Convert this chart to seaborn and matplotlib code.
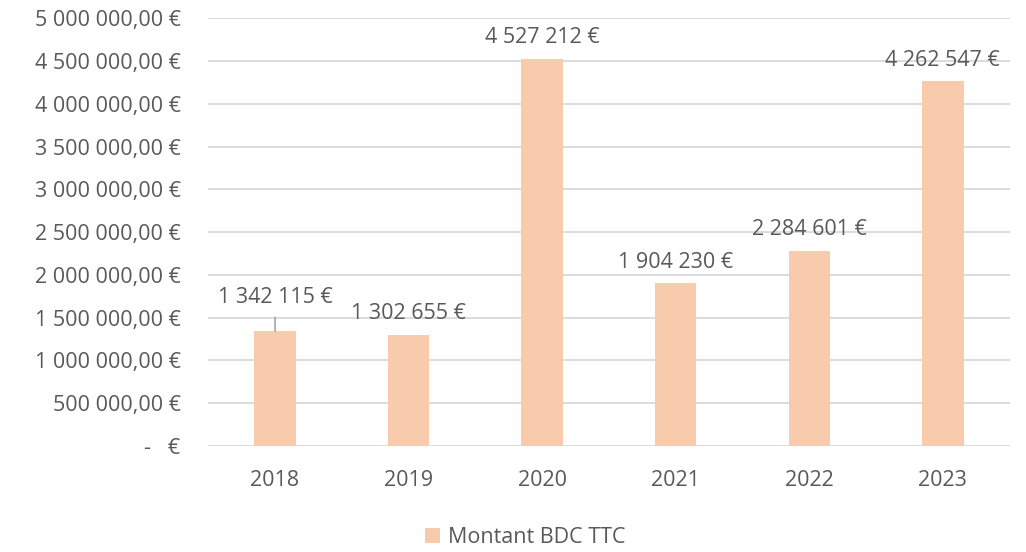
import matplotlib
matplotlib.use("Agg")
import matplotlib.pyplot as plt
import seaborn as sns
import pandas as pd
from matplotlib.ticker import FuncFormatter

# chart values
years = ["2018", "2019", "2020", "2021", "2022", "2023"]
amounts = [1342115, 1302655, 4527212, 1904230, 2284601, 4262547]
series_name = "Montant BDC TTC"

bar_color = "#F8CBAD"
text_color = "#595959"
grid_color = "#D9D9D9"

sns.set_theme(style="white")
plt.rcParams["font.family"] = ["Open Sans", "DejaVu Sans"]

df = pd.DataFrame({"Année": years, "Montant": amounts, "Série": series_name})


def fr_number(v, decimals=0):
    s = f"{v:,.{decimals}f}"
    return s.replace(",", " ").replace(".", ",")


def axis_fmt(v, pos):
    if v == 0:
        return "-   €"
    return fr_number(v, 2) + " €"


fig = plt.figure(figsize=(10.26, 5.52), dpi=100)
ax = fig.add_axes([0.203, 0.192, 0.781, 0.775])

sns.barplot(data=df, x="Année", y="Montant", hue="Série", palette=[bar_color],
            width=0.31, ax=ax, saturation=1, linewidth=0)

ax.set_ylim(0, 5000000)
ax.set_xlim(-0.5, 5.5)
ax.set_yticks(range(0, 5000001, 500000))
ax.yaxis.set_major_formatter(FuncFormatter(axis_fmt))
ax.grid(axis="y", color=grid_color, linewidth=1.3)
ax.set_axisbelow(True)
for s in ax.spines.values():
    s.set_visible(False)
ax.tick_params(axis="both", length=0, labelsize=15.5, labelcolor=text_color)
ax.tick_params(axis="y", pad=20)
ax.tick_params(axis="x", pad=17)
ax.set_xlabel("")
ax.set_ylabel("")

# data labels
for i, v in enumerate(amounts):
    off = 34 if i == 0 else 21
    ax.annotate(fr_number(v) + " €", xy=(i, v), xytext=(0, off),
                textcoords="offset pixels", ha="center", va="center",
                fontsize=15.5, color=text_color)
    if i == 0:
        ax.annotate("", xy=(i, v), xytext=(0, 14), textcoords="offset pixels",
                    arrowprops=dict(arrowstyle="-", color="#A6A6A6", lw=1.2,
                                    shrinkA=0, shrinkB=0))

leg = ax.legend(loc="center", bbox_to_anchor=(0.512, 0.027),
                bbox_transform=fig.transFigure, frameon=False, fontsize=15.5,
                handlelength=0.7, handleheight=0.7, handletextpad=0.4)
for t in leg.get_texts():
    t.set_color(text_color)

fig.savefig("out.png", dpi=100)
